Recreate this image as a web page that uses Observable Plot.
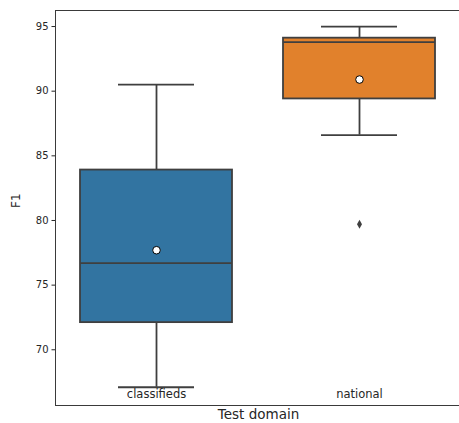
<!DOCTYPE html>
<html>
<head>
<meta charset="utf-8">
<script src="https://cdn.jsdelivr.net/npm/d3@7"></script>
<script src="https://cdn.jsdelivr.net/npm/@observablehq/plot@0.6"></script>
<style>
  html, body { margin: 0; padding: 0; background: white; overflow: hidden; }
  #chart { width: 459px; height: 423px; overflow: hidden; }
  #chart svg { max-width: none !important; width: 461px !important; height: 423px !important; }
</style>
</head>
<body>
<div id="chart"></div>
<script>
const categories = ["classifieds", "national"];
const lowWhisker = [67.1, 86.6];
const q1 = [72.1, 89.4];
const median = [76.7, 93.8];
const q3 = [83.9, 94.1];
const highWhisker = [90.5, 95.0];
const means = [77.7, 90.9];
const outlierDomains = ["national"];
const outlierValues = [79.7];
const yTicks = [70, 75, 80, 85, 90, 95];

const boxes = categories.map((c, i) => ({
  domain: c, lo: lowWhisker[i], q1: q1[i], med: median[i], q3: q3[i], hi: highWhisker[i], mean: means[i]
}));
const outliers = outlierDomains.map((d, i) => ({domain: d, value: outlierValues[i]}));

const colors = ["#3274a1", "#e1812c"];
const gray = "#3f3f3f";

const thinDiamond = {
  draw(context, size) {
    const r = Math.sqrt(size / Math.PI);
    const w = r * 0.55;
    context.moveTo(0, -r);
    context.lineTo(w, 0);
    context.lineTo(0, r);
    context.lineTo(-w, 0);
    context.closePath();
  }
};

const chart = Plot.plot({
  width: 461,
  height: 423,
  marginLeft: 55,
  marginRight: 0,
  marginTop: 10,
  marginBottom: 18,
  style: {fontFamily: "DejaVu Sans", fontSize: "10px", color: "#262626", background: "white"},
  x: {domain: categories, paddingInner: 0.25, paddingOuter: 0.125, label: null},
  y: {domain: [65.69, 96.24], label: null},
  color: {domain: categories, range: colors},
  marks: [
    Plot.ruleX(boxes, {x: "domain", y1: "lo", y2: "q1", stroke: gray, strokeWidth: 1.8}),
    Plot.ruleX(boxes, {x: "domain", y1: "q3", y2: "hi", stroke: gray, strokeWidth: 1.8}),
    Plot.tickY(boxes, {x: "domain", y: "lo", stroke: gray, strokeWidth: 1.8, insetLeft: 38, insetRight: 38}),
    Plot.tickY(boxes, {x: "domain", y: "hi", stroke: gray, strokeWidth: 1.8, insetLeft: 38, insetRight: 38}),
    Plot.barY(boxes, {x: "domain", y1: "q1", y2: "q3", fill: "domain", stroke: gray, strokeWidth: 1.8}),
    Plot.tickY(boxes, {x: "domain", y: "med", stroke: gray, strokeWidth: 1.8}),
    Plot.dot(boxes, {x: "domain", y: "mean", r: 3.8, fill: "white", stroke: "black", strokeWidth: 1}),
    Plot.dot(outliers, {x: "domain", y: "value", r: 4.5, symbol: thinDiamond, fill: gray, stroke: "none"}),
    Plot.frame({stroke: "#3a3a3a", strokeWidth: 1}),
    Plot.axisY({ticks: yTicks, tickSize: 3.5, tickPadding: 3.5, fontSize: 10, label: null}),
    Plot.axisX({tickSize: 0, tickPadding: 0, dy: -16, fontSize: 11.5, label: null}),
    Plot.text(["F1"], {text: d => d, frameAnchor: "left", dx: -39, rotate: -90, fontSize: 12, fill: "#262626"}),
    Plot.text(["Test domain"], {text: d => d, frameAnchor: "bottom", dy: 13, fontSize: 13.5, fill: "#262626"})
  ]
});
document.getElementById("chart").appendChild(chart);
</script>
</body>
</html>
